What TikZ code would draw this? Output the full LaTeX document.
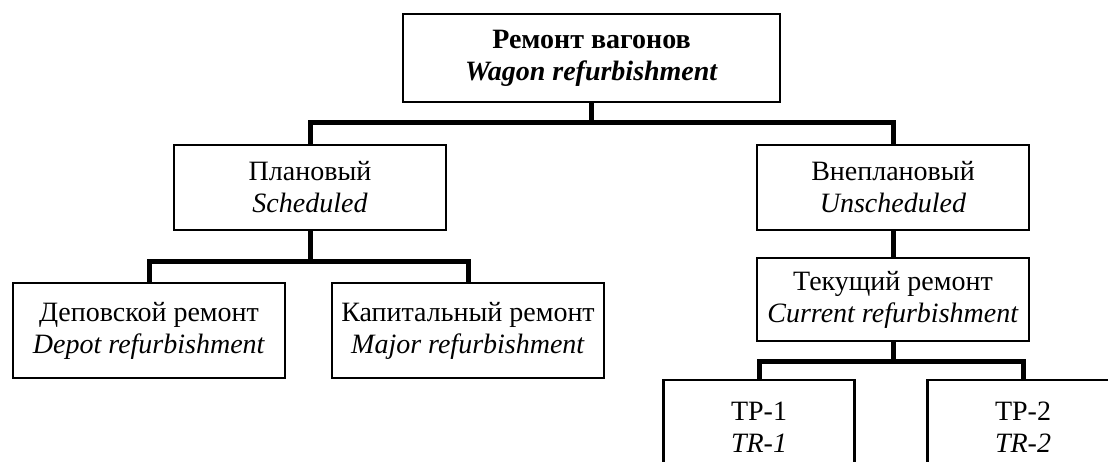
\documentclass[tikz,border=0pt]{standalone}
\usepackage{fontspec}
\setmainfont{Liberation Serif}
\begin{document}
\begin{tikzpicture}[x=1pt,y=-1pt,
  box/.style={draw=black,line width=2.8pt,fill=white,rectangle,inner sep=0pt,align=center,
    font=\fontsize{28}{32}\selectfont},
  conn/.style={draw=black,line width=5pt}]
\useasboundingbox (0,0) rectangle (1108,462);
\clip (0,0) rectangle (1108,462);
\node[box,minimum width=377pt,minimum height=88pt] (top) at (591.5,58)
  {\textbf{Ремонт вагонов}\\\textbf{\textit{Wagon refurbishment}}};
\node[box,minimum width=272pt,minimum height=85pt] (plan) at (310,187.5) {Плановый\\\textit{Scheduled}};
\node[box,minimum width=272pt,minimum height=85pt] (vne) at (893,187.5) {Внеплановый\\\textit{Unscheduled}};
\node[box,minimum width=272pt,minimum height=83pt] (tek) at (893,299.5) {Текущий ремонт\\\textit{Current refurbishment}};
\node[box,minimum width=272pt,minimum height=95pt] (dep) at (149,330.5) {Деповской ремонт\\\textit{Depot refurbishment}};
\node[box,minimum width=272pt,minimum height=95pt] (kap) at (468,330.5) {Капитальный ремонт\\\textit{Major refurbishment}};
\node[box,minimum width=191pt,minimum height=95pt] (tr1) at (759,427.5) {ТР-1\\\textit{TR-1}};
\node[box,minimum width=191pt,minimum height=95pt] (tr2) at (1023,427.5) {ТР-2\\\textit{TR-2}};
\coordinate (b1) at (591.5,123);
\coordinate (b2) at (310,262);
\coordinate (b3) at (893,361);
\draw[conn] (top.south) -- (b1);
\draw[conn] (plan.north) |- (b1) -| (vne.north);
\draw[conn] (plan.south) -- (b2);
\draw[conn] (dep.north) |- (b2) -| (kap.north);
\draw[conn] (vne.south) -- (tek.north);
\draw[conn] (tek.south) -- (b3);
\draw[conn] (tr1.north) |- (b3) -| (tr2.north);
\end{tikzpicture}
\end{document}
